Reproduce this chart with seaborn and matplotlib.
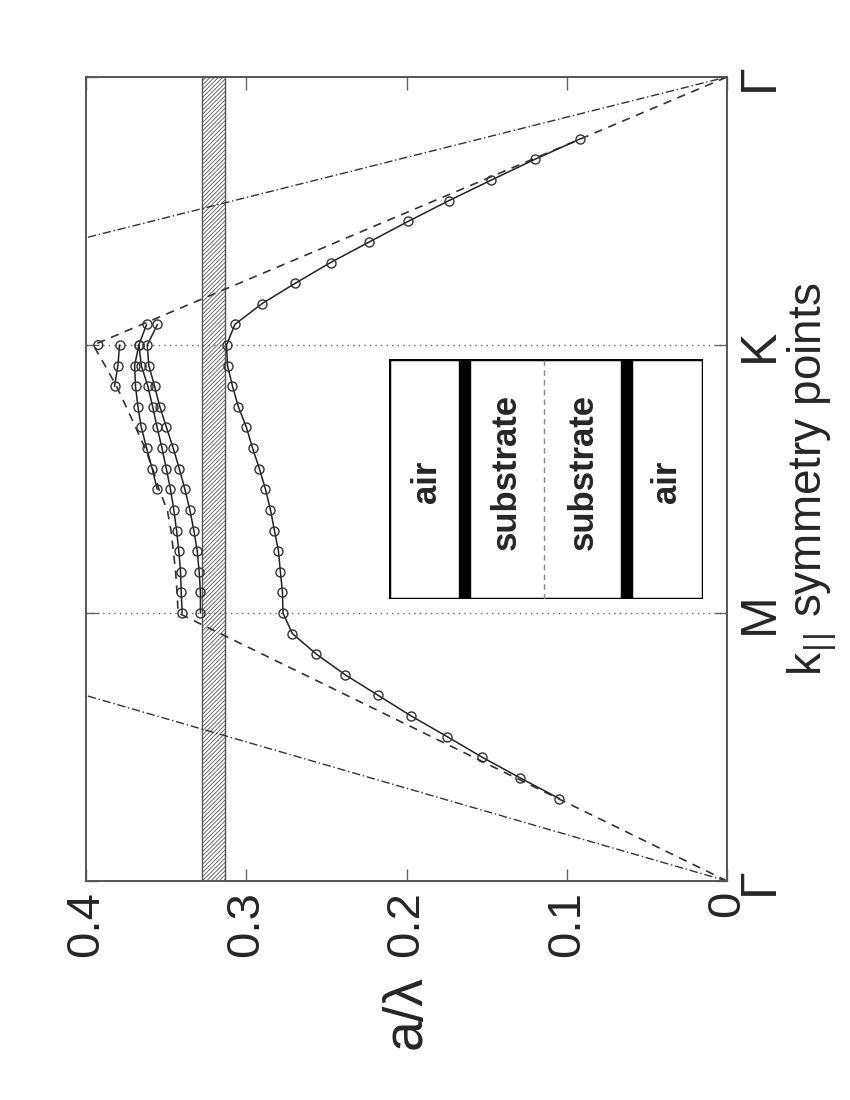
import numpy as np
import pandas as pd
import matplotlib
matplotlib.use("Agg")
import matplotlib.pyplot as plt
import seaborn as sns
from matplotlib.patches import Rectangle

# position along the path Gamma-M-K-Gamma, 13 samples per segment
sym_ticks = [0, 13, 26, 39]
sym_labels = ['Γ', 'M', 'K', 'Γ']
freq_ticks = [0, 0.1, 0.2, 0.3, 0.4]
freq_labels = ['0', '0.1', '0.2', '0.3', '0.4']

# lowest guided band (a/lambda)
band0_k = list(range(4, 37))
band0_f = [0.1047, 0.1291, 0.1527, 0.1746, 0.1970, 0.2176, 0.2382, 0.2562, 0.2712, 0.2771,
           0.2774, 0.2787, 0.2799, 0.2824, 0.2849, 0.2880, 0.2918, 0.2961, 0.2999, 0.3049,
           0.3086, 0.3117, 0.3123,
           0.3071, 0.2903, 0.2693, 0.2474, 0.2232, 0.1989, 0.1736, 0.1471, 0.1201, 0.0915]

# upper bands between M and K
band1_k = list(range(13, 28))
band1_f = [0.3286, 0.3286, 0.3294, 0.3306, 0.3327, 0.3352, 0.3383, 0.3418, 0.3456, 0.3498,
           0.3539, 0.3572, 0.3608, 0.3618, 0.3554]
band2_k = list(range(13, 28))
band2_f = [0.3400, 0.3406, 0.3410, 0.3421, 0.3435, 0.3452, 0.3473, 0.3499, 0.3526, 0.3556,
           0.3584, 0.3614, 0.3655, 0.3670, 0.3622]
band3_k = list(range(19, 27))
band3_f = [0.3556, 0.3587, 0.3622, 0.3655, 0.3676, 0.3691, 0.3697, 0.3670]
band4_k = [24, 25, 26]
band4_f = [0.3822, 0.3801, 0.3791]
single_k = [26]
single_f = [0.3923]

# substrate light line (dashed) and air light line (dash-dot)
light_k = [0, 13, 14, 15, 16, 17, 18, 19, 20, 21, 22, 23, 24, 25, 26, 39]
light_f = [0, 0.3425, 0.3432, 0.3441, 0.3455, 0.3470, 0.3493, 0.3545, 0.3584, 0.3632,
           0.3690, 0.3749, 0.3810, 0.3881, 0.3955, 0]
air_k1 = [0, 13]
air_f1 = [0, 0.578]
air_k2 = [26, 39]
air_f2 = [0.667, 0]

# band gap
gap_lo, gap_hi = 0.3134, 0.3275

sns.set_style('white')
plt.rcParams['font.family'] = ['Liberation Sans', 'DejaVu Sans']
plt.rcParams['hatch.linewidth'] = 0.6
plt.rcParams['hatch.color'] = '#666666'

fig = plt.figure(figsize=(8.5, 11), dpi=100)
ax = fig.add_axes([0.1012, 0.1991, 0.7541, 0.7309])

ax.axvspan(gap_lo, gap_hi, facecolor='white', edgecolor='#555555', hatch='////////', lw=1.0, zorder=1)
for k in sym_ticks[1:3]:
    ax.axhline(k, ls=(0, (1, 3)), color='#666666', lw=1.0, zorder=1)

sns.lineplot(x=light_f, y=light_k, sort=False, estimator=None, ax=ax,
             color='#333333', lw=1.2, ls=(0, (5, 4)), zorder=2)
for fx, kx in [(air_f1, air_k1), (air_f2, air_k2)]:
    sns.lineplot(x=fx, y=kx, sort=False, estimator=None, ax=ax,
                 color='#333333', lw=1.0, ls=(0, (6, 2, 1, 2)), zorder=2)

mk = dict(marker='o', markersize=6.5, markerfacecolor='none', markeredgecolor='#333333',
          markeredgewidth=1.0)
for fx, kx in [(band0_f, band0_k), (band1_f, band1_k), (band2_f, band2_k),
               (band3_f, band3_k), (band4_f, band4_k)]:
    sns.lineplot(x=fx, y=kx, sort=False, estimator=None, ax=ax,
                 color='#222222', lw=1.1, zorder=3, **mk)
sns.scatterplot(x=single_f, y=single_k, ax=ax, marker='o', s=40, facecolor='none',
                edgecolor='#333333', linewidth=1.0, zorder=3)

ax.set_xlim(0.4, 0)
ax.set_ylim(0, 39)
ax.set_xticks(freq_ticks)
ax.set_xticklabels(freq_labels, rotation=90, fontsize=34)
ax.set_yticks(sym_ticks)
ax.set_yticklabels(sym_labels, rotation=90, fontsize=36, va='center')
for lab in ax.get_yticklabels():
    if lab.get_text() == 'Γ':
        lab.set_family(['Liberation Serif', 'DejaVu Serif'])
        lab.set_fontsize(38)
    else:
        lab.set_family(['Liberation Sans Narrow', 'Liberation Sans'])
ax.tick_params(direction='in', length=9, width=1, color='#666666',
               top=True, bottom=True, left=True, right=True,
               labelleft=False, labelright=True, pad=7)
for s in ax.spines.values():
    s.set_color('#555555')
    s.set_linewidth(1.4)

ax.set_xlabel('a/λ', rotation=90, fontsize=40, va='center')
ax.xaxis.set_label_coords(0.5, -0.163)
ax.yaxis.set_label_position('right')
ax.set_ylabel(r'k$_{||}$ symmetry points', rotation=90, fontsize=33, labelpad=2,
              family=['Liberation Sans Narrow', 'Liberation Sans'])

# inset sketch of the layer structure
ins = fig.add_axes([0.458, 0.4552, 0.3694, 0.2182])
ins.set_xlim(0, 1)
ins.set_ylim(0, 1)
ins.axis('off')
ins.add_patch(Rectangle((0, 0), 1, 1, fill=False, lw=2.5, edgecolor='black'))
ins.add_patch(Rectangle((0.221, 0), 0.036, 1, color='black'))
ins.add_patch(Rectangle((0.737, 0), 0.037, 1, color='black'))
ins.plot([0.4927, 0.4927], [0, 1], ls=(0, (4, 3)), color='#888888', lw=1)
for xt, yt, txt in [(0.119, 0.49, 'air'), (0.374, 0.53, 'substrate'),
                    (0.619, 0.53, 'substrate'), (0.883, 0.49, 'air')]:
    ins.text(xt, yt, txt, rotation=90, ha='center', va='center', fontsize=25,
             fontweight='bold')

fig.savefig('out.png', dpi=100, facecolor='white')
